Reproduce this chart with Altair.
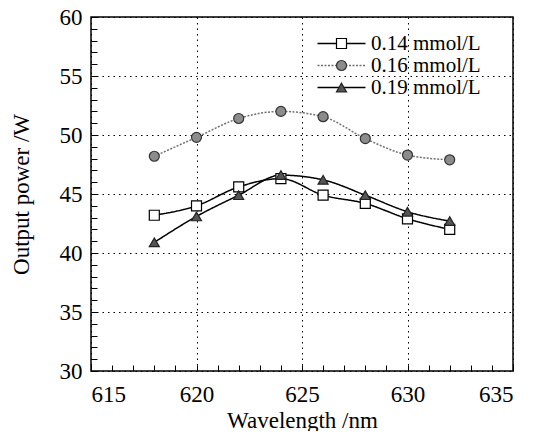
import altair as alt
import pandas as pd

# ---- data ----
wavelength = [618, 620, 622, 624, 626, 628, 630, 632]
power_014 = [43.2, 44.0, 45.6, 46.3, 44.9, 44.2, 42.9, 42.0]
power_016 = [48.2, 49.8, 51.4, 52.0, 51.55, 49.7, 48.3, 47.9]
power_019 = [40.9, 43.1, 44.9, 46.6, 46.2, 44.9, 43.5, 42.7]
series_names = ["0.14 mmol/L", "0.16 mmol/L", "0.19 mmol/L"]

x_major = [615, 620, 625, 630, 635]
y_major = [30, 35, 40, 45, 50, 55, 60]
x_minor = list(range(615, 636))
y_minor = list(range(30, 61))

rows = []
for name, vals in zip(series_names, [power_014, power_016, power_019]):
    for w, p in zip(wavelength, vals):
        rows.append({"wavelength": w, "power": p, "series": name, "series_pt": name})
df = pd.DataFrame(rows)

W, H = 422, 354
FONT = "Times New Roman"

xscale = alt.Scale(domain=[615, 635], nice=False, zero=False)
yscale = alt.Scale(domain=[30, 60], nice=False, zero=False)

base = alt.Chart(df)

line_legend = alt.Legend(
    orient="none", legendX=240, legendY=16, title=None,
    symbolType="M-4.8,0H4.8", symbolSize=100, symbolStrokeWidth=1.5,
    labelFont=FONT, labelFontSize=21, labelColor="black", labelOffset=19,
    rowPadding=0, padding=0,
)
point_legend = alt.Legend(
    orient="none", legendX=240, legendY=16, title=None,
    symbolSize=100, symbolStrokeWidth=1.2,
    labelFont=FONT, labelFontSize=21, labelOpacity=0, labelOffset=19,
    rowPadding=0, padding=0,
)

lines = base.mark_line(interpolate="monotone", strokeWidth=1.5).encode(
    x=alt.X("wavelength:Q", scale=xscale,
            axis=alt.Axis(title="Wavelength /nm", values=x_major, orient="bottom",
                          grid=True, ticks=False, domain=False,
                          labelFont=FONT, titleFont=FONT,
                          labelPadding=12, titlePadding=3)),
    y=alt.Y("power:Q", scale=yscale,
            axis=alt.Axis(title="Output power /W", values=y_major, orient="left",
                          grid=True, ticks=False, domain=False,
                          labelFont=FONT, titleFont=FONT,
                          labelPadding=9, titlePadding=26)),
    color=alt.Color("series:N",
                    scale=alt.Scale(domain=series_names, range=["black", "#707070", "black"]),
                    legend=line_legend),
    strokeDash=alt.StrokeDash("series:N",
                              scale=alt.Scale(domain=series_names, range=[[1, 0], [2, 1.5], [1, 0]]),
                              legend=line_legend),
    order="wavelength:Q",
)

points = base.mark_point(filled=True, size=100, strokeWidth=1.2, opacity=1).encode(
    x=alt.X("wavelength:Q", scale=xscale, axis=None),
    y=alt.Y("power:Q", scale=yscale, axis=None),
    shape=alt.Shape("series_pt:N",
                    scale=alt.Scale(range=["square", "circle", "triangle-up"]),
                    legend=point_legend),
    fill=alt.Fill("series_pt:N",
                  scale=alt.Scale(range=["white", "#8c8c8c", "#555555"]),
                  legend=point_legend),
    stroke=alt.Stroke("series_pt:N",
                      scale=alt.Scale(range=["black", "#333333", "#222222"]),
                      legend=point_legend),
)

minor = base.mark_point(opacity=0).encode(
    x=alt.X("wavelength:Q", scale=xscale,
            axis=alt.Axis(orient="top", offset=-H, values=x_minor, labels=False, title=None,
                          grid=False, domain=False, ticks=True, tickSize=6,
                          tickColor="black", tickWidth=1)),
    y=alt.Y("power:Q", scale=yscale,
            axis=alt.Axis(orient="right", offset=-W, values=y_minor, labels=False, title=None,
                          grid=False, domain=False, ticks=True, tickSize=6,
                          tickColor="black", tickWidth=1)),
)

chart = alt.layer(lines, points, minor).resolve_axis(
    x="independent", y="independent"
).properties(
    width=W, height=H,
    padding={"left": 83, "top": 9, "right": 20, "bottom": 60},
    autosize=alt.AutoSizeParams(type="none"),
).configure(
    font=FONT
).configure_view(
    stroke="black", strokeWidth=1.5
).configure_axis(
    labelFontSize=23, labelColor="black",
    titleFontSize=23, titleFontWeight="normal", titleColor="black",
    gridColor="black", gridDash=[1.5, 4], gridWidth=1, gridOpacity=1,
)

chart.save("out.html", embed_options={"renderer": "svg", "actions": False})
